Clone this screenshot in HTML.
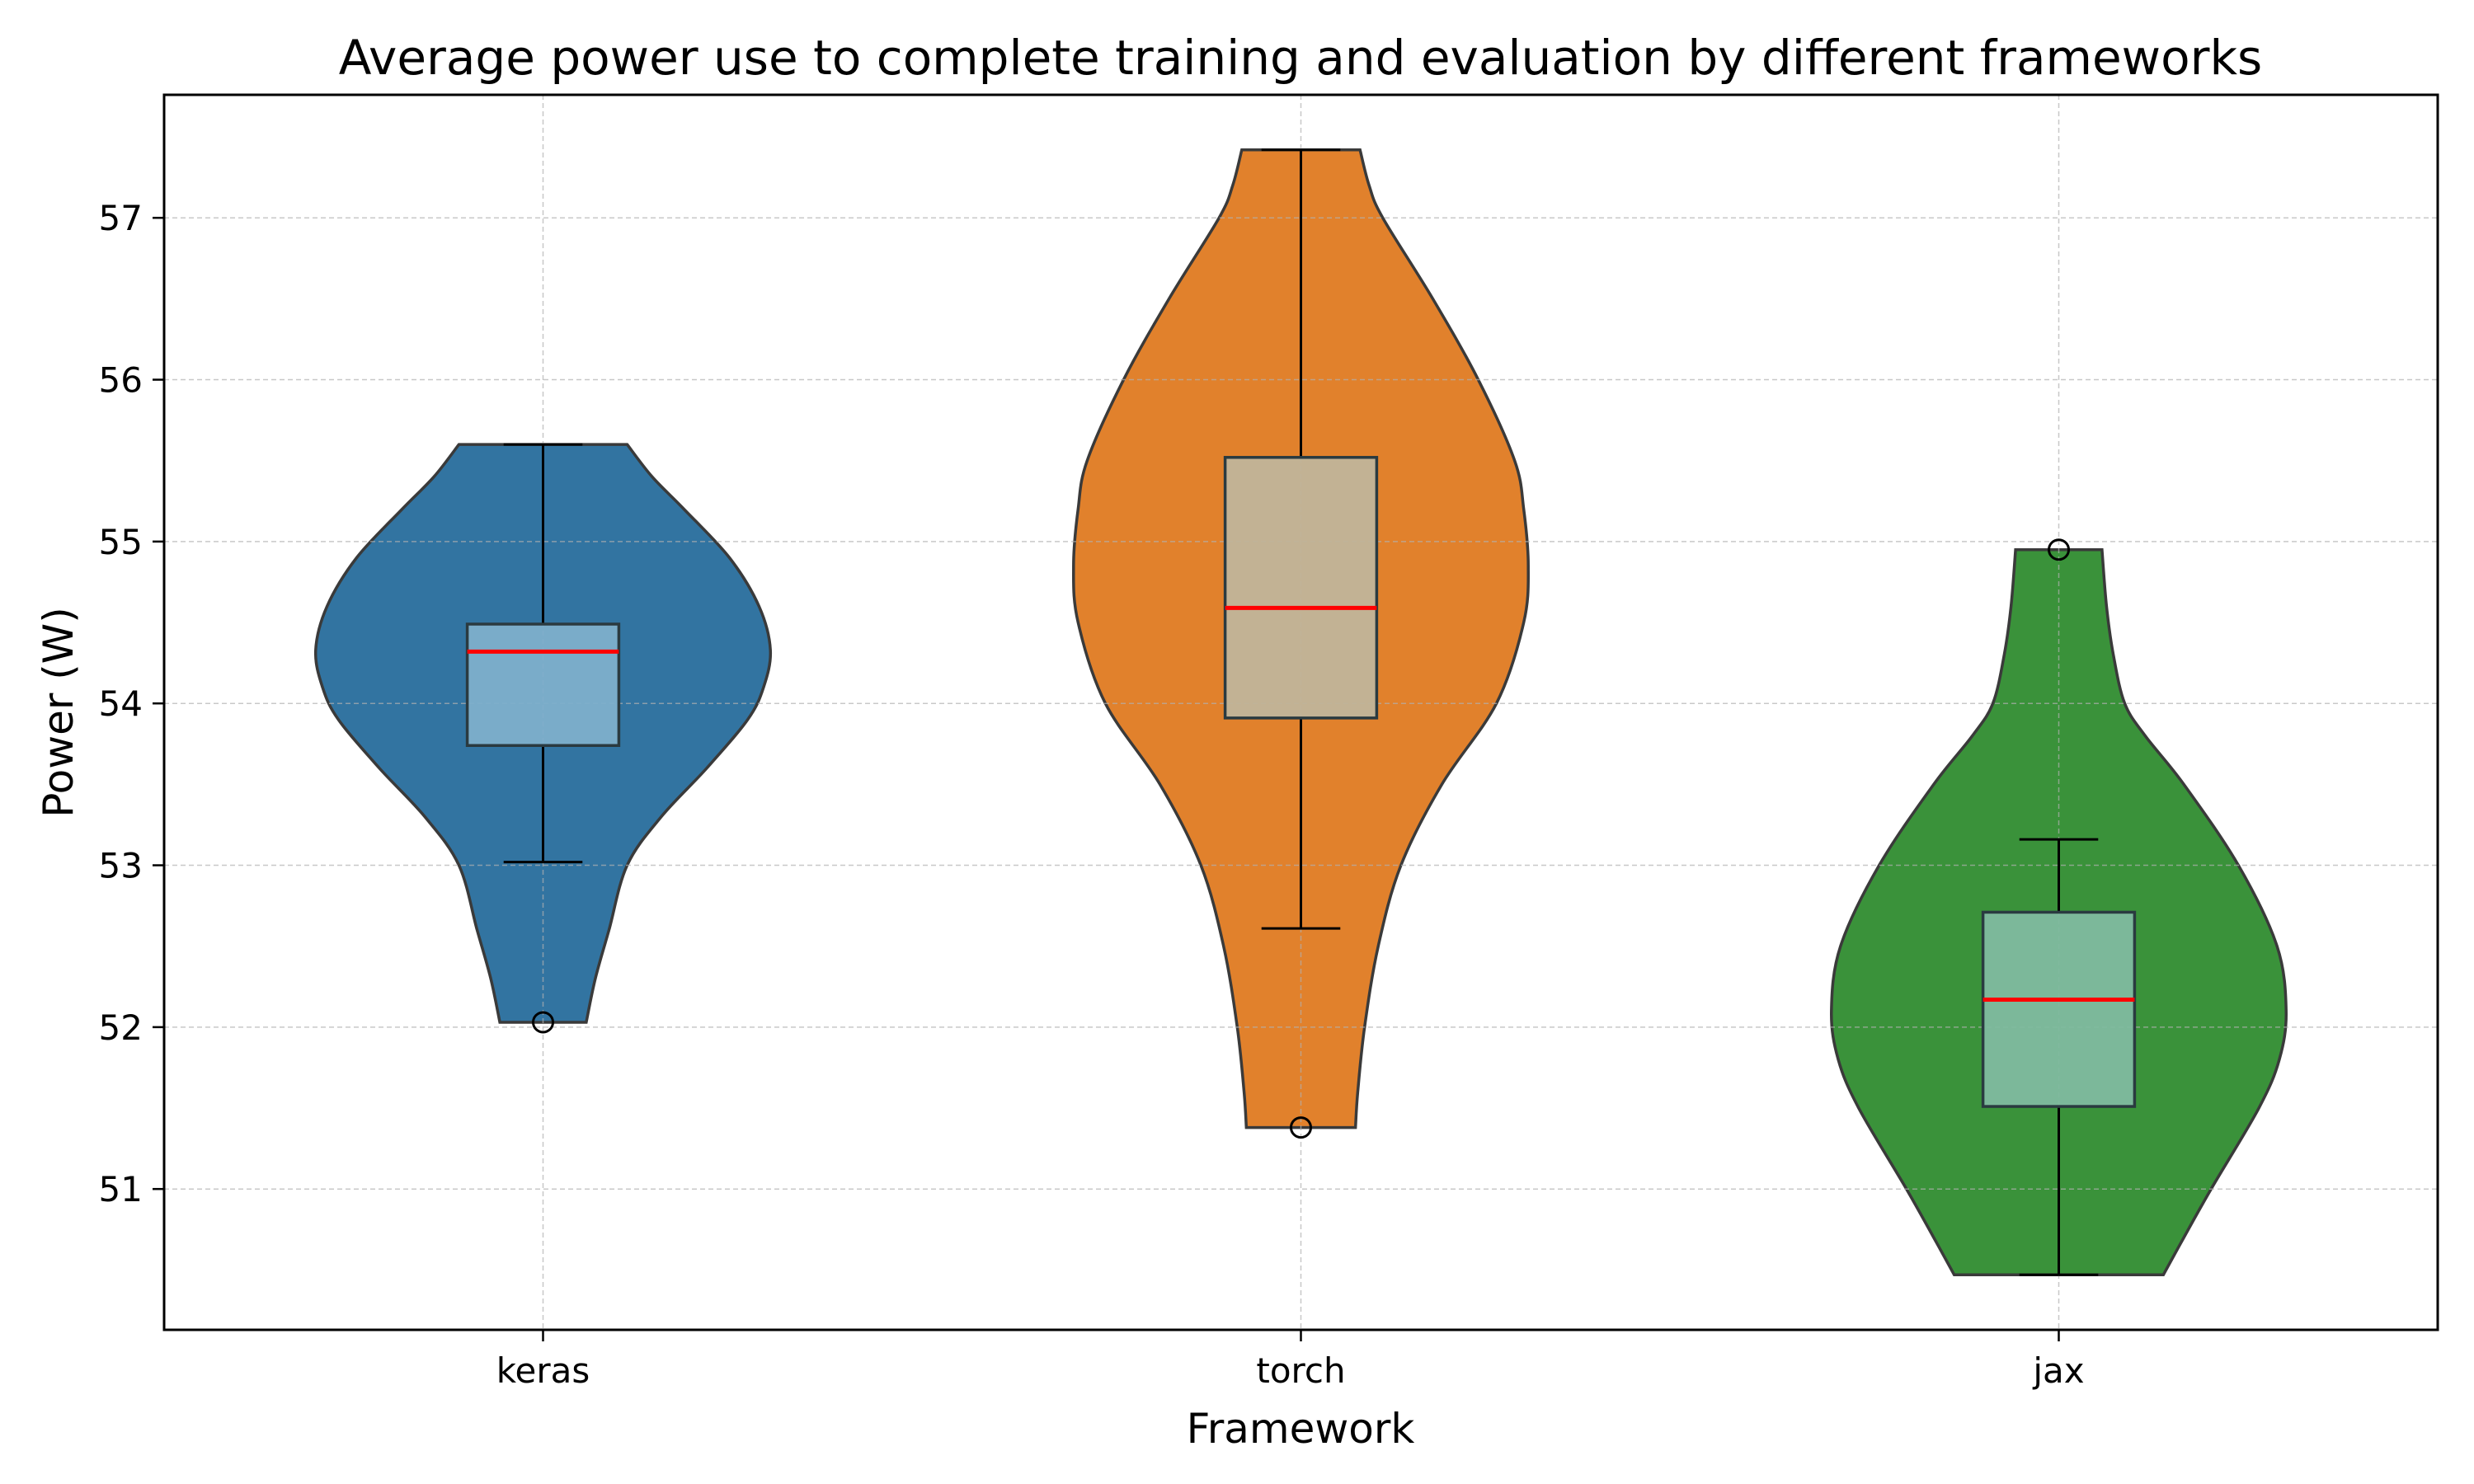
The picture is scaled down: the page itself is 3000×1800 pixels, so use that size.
<!DOCTYPE html>
<html><head><meta charset="utf-8"><style>
html,body{margin:0;padding:0;background:#fff;}
svg{display:block;font-family:"DejaVu Sans","Liberation Sans",sans-serif;}
</style></head><body>
<svg id="chart" width="3000" height="1800" viewBox="0 0 3000 1800" xmlns="http://www.w3.org/2000/svg">
<rect width="3000" height="1800" fill="#fff"/>
<text x="1577" y="90" font-size="58" text-anchor="middle" fill="#000">Average power use to complete training and evaluation by different frameworks</text>
<text x="1577" y="1750" font-size="50" text-anchor="middle" fill="#000">Framework</text>
<text transform="translate(88,864) rotate(-90)" font-size="50" text-anchor="middle" fill="#000">Power (W)</text>
<g id="plot"></g>
</svg>
<script>
const categories = ["keras","torch","jax"];
const yTicks = [51,52,53,54,55,56,57];
const violinColors = ["#3274a1","#e1812c","#3a923a"];
const boxColors = ["#7eafcb","#c0b49a","#7fbb9f"];
// violin profiles: values and relative widths
const kerasVals = [52.03,52.3,52.6,53.0,53.3,53.6,53.9,54.1,54.33,54.6,54.9,55.2,55.4,55.6];
const kerasDens = [0.19,0.23,0.29,0.37,0.52,0.72,0.90,0.97,1.0,0.95,0.82,0.62,0.48,0.37];
const torchVals = [51.38,51.6,52.0,52.5,53.0,53.5,54.0,54.5,54.85,55.2,55.5,56.0,56.5,57.0,57.2,57.42];
const torchDens = [0.24,0.25,0.28,0.34,0.44,0.62,0.86,0.98,1.0,0.98,0.94,0.78,0.58,0.36,0.30,0.26];
const jaxVals = [50.47,50.7,51.0,51.5,51.8,52.1,52.5,53.0,53.5,53.8,54.0,54.3,54.6,54.95];
const jaxDens = [0.46,0.55,0.67,0.88,0.97,1.0,0.96,0.79,0.55,0.38,0.29,0.24,0.21,0.19];
const q1 = [53.74,53.91,51.51];
const q3 = [54.49,55.52,52.71];
const medians = [54.32,54.59,52.17];
const whiskLo = [53.02,52.61,50.47];
const whiskHi = [55.6,57.42,53.16];
const outliers = [52.03,51.38,54.95];

const L=199,R=2956,T=115,B=1613, Y0=57.76, Y1=50.13;
const X=v=>L+(v-0.5)*(R-L)/3;
const Y=v=>T+(Y0-v)*(B-T)/(Y0-Y1);
const U=(R-L)/3;
const NS="http://www.w3.org/2000/svg";
const plot=document.getElementById('plot');
function mk(tag,attrs,parent){const e=document.createElementNS(NS,tag);for(const k in attrs)e.setAttribute(k,attrs[k]);(parent||plot).appendChild(e);return e;}
function smooth(pts){let d='M'+pts[0][0]+','+pts[0][1];for(let i=0;i<pts.length-1;i++){const p0=pts[Math.max(0,i-1)],p1=pts[i],p2=pts[i+1],p3=pts[Math.min(pts.length-1,i+2)];
d+=' C'+(p1[0]+(p2[0]-p0[0])/6)+','+(p1[1]+(p2[1]-p0[1])/6)+' '+(p2[0]-(p3[0]-p1[0])/6)+','+(p2[1]-(p3[1]-p1[1])/6)+' '+p2[0]+','+p2[1];}return d;}
const vals=[kerasVals,torchVals,jaxVals], dens=[kerasDens,torchDens,jaxDens];
categories.forEach((c,i)=>{
  const cx=X(i+1), hw=0.3*U;
  const right=vals[i].map((v,j)=>[cx+dens[i][j]*hw,Y(v)]);
  const left=vals[i].map((v,j)=>[cx-dens[i][j]*hw,Y(v)]).reverse();
  let d=smooth(right)+' L'+left[0][0]+','+left[0][1]+smooth(left).replace(/^M[^ C]+/,'')+' Z';
  const p=mk('path',{d:d,fill:violinColors[i],stroke:'#3a3a3a','stroke-width':3.5});
  
  
});
// grid
yTicks.forEach(t=>{const g=mk('line',{x1:L,x2:R,y1:Y(t),y2:Y(t),stroke:'#b0b0b0','stroke-width':1.5,'stroke-dasharray':'6,4','stroke-opacity':0.7});

});
categories.forEach((c,i)=>{const g=mk('line',{x1:X(i+1),x2:X(i+1),y1:T,y2:B,stroke:'#b0b0b0','stroke-width':1.5,'stroke-dasharray':'6,4','stroke-opacity':0.7});

});
// boxes
categories.forEach((c,i)=>{
  const cx=X(i+1), bw=0.1*U, cw=0.052*U;
  const g=mk('g',{});
  
  
  mk('line',{x1:cx,x2:cx,y1:Y(q3[i]),y2:Y(whiskHi[i]),stroke:'#000','stroke-width':3},g);
  mk('line',{x1:cx,x2:cx,y1:Y(q1[i]),y2:Y(whiskLo[i]),stroke:'#000','stroke-width':3},g);
  mk('line',{x1:cx-cw,x2:cx+cw,y1:Y(whiskHi[i]),y2:Y(whiskHi[i]),stroke:'#000','stroke-width':3},g);
  mk('line',{x1:cx-cw,x2:cx+cw,y1:Y(whiskLo[i]),y2:Y(whiskLo[i]),stroke:'#000','stroke-width':3},g);
  mk('rect',{x:cx-bw,y:Y(q3[i]),width:2*bw,height:Y(q1[i])-Y(q3[i]),fill:boxColors[i],stroke:'#2a3a40','stroke-width':3.5,'fill-opacity':0.95},g);
  mk('line',{x1:cx-bw,x2:cx+bw,y1:Y(medians[i]),y2:Y(medians[i]),stroke:'#ff0000','stroke-width':5},g);
  mk('circle',{cx:cx,cy:Y(outliers[i]),r:12,fill:'none',stroke:'#000','stroke-width':3},g);
});
// axes frame
const fr=mk('rect',{x:L,y:T,width:R-L,height:B-T,fill:'none',stroke:'#000','stroke-width':3});


yTicks.forEach(t=>{
  mk('line',{x1:L-14,x2:L,y1:Y(t),y2:Y(t),stroke:'#000','stroke-width':2.5});
  const tx=mk('text',{x:L-26,y:Y(t)+15,'font-size':42,'text-anchor':'end',fill:'#000'});
  tx.textContent=t;
  
  
});
categories.forEach((c,i)=>{
  mk('line',{x1:X(i+1),x2:X(i+1),y1:B,y2:B+14,stroke:'#000','stroke-width':2.5});
  const tx=mk('text',{x:X(i+1),y:B+64,'font-size':42,'text-anchor':'middle',fill:'#000'});
  tx.textContent=c;
  
  
});
</script>
</body></html>
